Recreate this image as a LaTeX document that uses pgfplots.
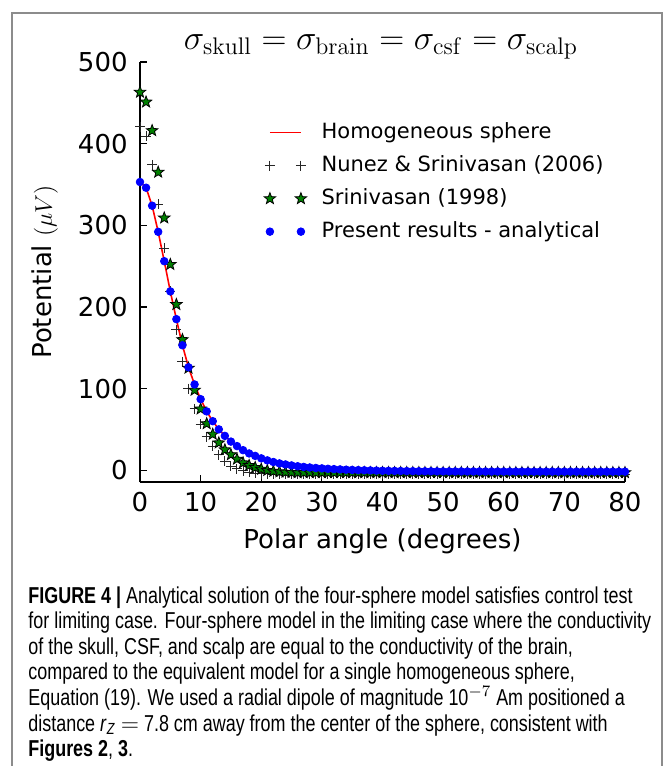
\documentclass[border=0pt]{standalone}
\usepackage{pgfplots}
\pgfplotsset{compat=1.18}
\usepackage[no-math]{fontspec}
\setmainfont{DejaVu Sans}
\newfontfamily\capfont[FakeStretch=0.78]{Liberation Sans}
\definecolor{mplgreen}{rgb}{0,0.5,0}
\pgfdeclareplotmark{fstar}{%
  \pgfpathmoveto{\pgfqpointpolar{90}{\pgfplotmarksize}}%
  \pgfpathlineto{\pgfqpointpolar{126}{0.42\pgfplotmarksize}}%
  \pgfpathlineto{\pgfqpointpolar{162}{\pgfplotmarksize}}%
  \pgfpathlineto{\pgfqpointpolar{198}{0.42\pgfplotmarksize}}%
  \pgfpathlineto{\pgfqpointpolar{234}{\pgfplotmarksize}}%
  \pgfpathlineto{\pgfqpointpolar{270}{0.42\pgfplotmarksize}}%
  \pgfpathlineto{\pgfqpointpolar{306}{\pgfplotmarksize}}%
  \pgfpathlineto{\pgfqpointpolar{342}{0.42\pgfplotmarksize}}%
  \pgfpathlineto{\pgfqpointpolar{18}{\pgfplotmarksize}}%
  \pgfpathlineto{\pgfqpointpolar{54}{0.42\pgfplotmarksize}}%
  \pgfpathclose
  \pgfusepathqfillstroke}
\pgfplotsset{
  lineleg/.style={legend image code/.code={\draw[##1] (0pt,0pt) -- (15.5pt,0pt);}},
  twomarks/.style={legend image code/.code={\draw[##1] plot coordinates {(0pt,0pt) (15.5pt,0pt)};}},
}

\pgfplotstableread{
x y
0 353
1 346
2 324
3 292
4 256
5 219
6 185
7 153
8 126
9 105
10 87
11 72
12 60
13 50
14 42
15 35
16 29.5
17 24.5
18 20.5
19 17.5
20 14.5
21 12
22 10
23 8.3
24 7
25 5.8
26 4.8
27 4
28 3.3
29 2.7
30 2.2
31 1.7
32 1.3
33 0.9
34 0.6
35 0.3
36 0.1
37 -0.1
38 -0.3
39 -0.5
40 -0.7
41 -0.8
42 -0.9
43 -1.0
44 -1.1
45 -1.2
46 -1.3
47 -1.35
48 -1.4
49 -1.45
50 -1.5
51 -1.5
52 -1.55
53 -1.55
54 -1.6
55 -1.6
56 -1.6
57 -1.65
58 -1.65
59 -1.65
60 -1.7
61 -1.7
62 -1.7
63 -1.7
64 -1.7
65 -1.75
66 -1.75
67 -1.75
68 -1.75
69 -1.75
70 -1.75
71 -1.8
72 -1.8
73 -1.8
74 -1.8
75 -1.8
76 -1.8
77 -1.8
78 -1.8
79 -1.8
80 -1.8
}\homog

\pgfplotstableread{
x y
0 421
1 409
2 374
3 326
4 272
5 219
6 172
7 133
8 100
9 75
10 56
11 41
12 29
13 19
14 11
15 5
16 1.5
17 -1
18 -2.5
19 -3.5
20 -4.2
21 -4.5
22 -4.7
23 -4.8
24 -4.9
25 -5
26 -5
27 -5
28 -5
29 -5
30 -5
31 -5
32 -5
33 -5
34 -5
35 -5
36 -5
37 -5
38 -5
39 -5
40 -5
41 -5
42 -5
43 -5
44 -5
45 -5
46 -5
47 -5
48 -5
49 -5
50 -5
51 -5
52 -5
53 -5
54 -5
55 -5
56 -5
57 -5
58 -5
59 -5
60 -5
61 -5
62 -5
63 -5
64 -5
65 -5
66 -5
67 -5
68 -5
69 -5
70 -5
71 -5
72 -5
73 -5
74 -5
75 -5
76 -5
77 -5
78 -5
79 -5
80 -5
}\nunez

\pgfplotstableread{
x y
0 463
1 451
2 416
3 365
4 309
5 252
6 203
7 160
8 125
9 98
10 75
11 57
12 44
13 33.5
14 25
15 19
16 13.5
17 9
18 5.8
19 3.3
20 1.2
21 -0.3
22 -1.3
23 -2
24 -2.5
25 -2.8
26 -3
27 -3
28 -3
29 -3
30 -3
31 -3
32 -3
33 -3
34 -3
35 -3
36 -3
37 -3
38 -3
39 -3
40 -3
41 -3
42 -3
43 -3
44 -3
45 -3
46 -3
47 -3
48 -3
49 -3
50 -3
51 -3
52 -3
53 -3
54 -3
55 -3
56 -3
57 -3
58 -3
59 -3
60 -3
61 -3
62 -3
63 -3
64 -3
65 -3
66 -3
67 -3
68 -3
69 -3
70 -3
71 -3
72 -3
73 -3
74 -3
75 -3
76 -3
77 -3
78 -3
79 -3
80 -3
}\srini

\begin{document}
\begin{tikzpicture}
\path[use as bounding box] (0pt,0pt) rectangle (334.5pt,-383pt);
\draw[black!45, line width=0.8pt] (6pt,-384pt) -- (6pt,-6.5pt) -- (331pt,-6.5pt) -- (331pt,-384pt);
\node at (190.5pt,-23.5pt) {\fontsize{17.6}{20}\selectfont $\sigma_{\mathrm{skull}}=\sigma_{\mathrm{brain}}=\sigma_{\mathrm{csf}}=\sigma_{\mathrm{scalp}}$};
\begin{axis}[
  at={(70pt,-241pt)}, anchor=south west,
  scale only axis, width=242.5pt, height=210pt,
  xmin=0, xmax=80, ymin=-14.5, ymax=500,
  axis x line*=bottom, axis y line*=left,
  axis line style={-, line width=0.9pt},
  tick align=inside, major tick length=3.5pt,
  tick style={black, line width=0.6pt},
  xtick={0,10,...,80}, ytick={0,100,...,500},
  /pgf/number format/assume math mode=true,
  tick label style={font=\fontsize{13}{15}\selectfont},
  yticklabel style={inner sep=0pt, xshift=-6pt},
  xticklabel style={inner sep=0pt, yshift=-5pt},
  xlabel={Polar angle (degrees)},
  ylabel={Potential $(\mu V)$},
  label style={font=\fontsize{13}{15}\selectfont},
  xlabel style={at={(axis description cs:0.5,-0.1405)}, anchor=center},
  ylabel style={at={(axis description cs:-0.196,0.5)}, anchor=center},
  legend style={draw=none, fill=none, at={(axis description cs:0.2553,0.8625)}, anchor=north west,
    font=\fontsize{10.5}{12.5}\selectfont, inner sep=0pt, row sep=4pt,
    nodes={inner sep=1pt, text height=8pt, text depth=2.5pt},
    /tikz/every odd column/.append style={column sep=6.5pt}},
  legend cell align=left,
  clip=false,
]
\addplot[red, line width=0.8pt, no markers, lineleg] table {\homog};
\addlegendentry{Homogeneous sphere}
\addplot[only marks, mark=+, mark size=2.5pt, black!85, line width=0.5pt, twomarks] table {\nunez};
\addlegendentry{Nunez \& Srinivasan (2006)}
\addplot[only marks, mark=fstar, mark size=3pt, mark options={fill=mplgreen, draw=black, line width=0.4pt}, twomarks] table {\srini};
\addlegendentry{Srinivasan (1998)}
\addplot[only marks, mark=*, mark size=1.9pt, mark options={fill=blue, draw=blue}, twomarks] table {\homog};
\addlegendentry{Present results - analytical}
\end{axis}
\begin{scope}[font=\capfont\fontsize{11.5}{13.5}\selectfont]
\node[anchor=base west, inner sep=0pt] at (14pt,-301.5pt) {\textbf{FIGURE 4 |} Analytical solution of the four-sphere model satisfies control test};
\node[anchor=base west, inner sep=0pt] at (14pt,-314.3pt) {for limiting case. Four-sphere model in the limiting case where the conductivity};
\node[anchor=base west, inner sep=0pt] at (14pt,-327.1pt) {of the skull, CSF, and scalp are equal to the conductivity of the brain,};
\node[anchor=base west, inner sep=0pt] at (14pt,-339.9pt) {compared to the equivalent model for a single homogeneous sphere,};
\node[anchor=base west, inner sep=0pt] at (14pt,-352.7pt) {Equation (19). We used a radial dipole of magnitude 10$^{-7}$ Am positioned a};
\node[anchor=base west, inner sep=0pt] at (14pt,-365.5pt) {distance \textit{r}\textsubscript{\textit{Z}} $=$ 7.8 cm away from the center of the sphere, consistent with};
\node[anchor=base west, inner sep=0pt] at (14pt,-378.3pt) {\textbf{Figures 2}, \textbf{3}.};
\end{scope}
\end{tikzpicture}
\end{document}
